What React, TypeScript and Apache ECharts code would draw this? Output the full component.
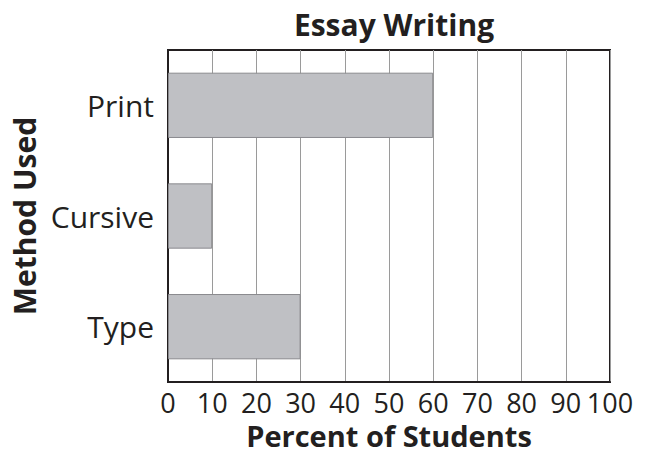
import React, { useEffect, useRef } from "react";
import * as echarts from "echarts";

const categories = ["Print", "Cursive", "Type"];
const values = [60, 10, 30];
const xTicks = [0, 10, 20, 30, 40, 50, 60, 70, 80, 90, 100];

export default function App() {
  const ref = useRef<HTMLDivElement>(null);
  useEffect(() => {
    if (!ref.current) return;
    const chart = echarts.init(ref.current, null, { renderer: "svg" });
    const font = "'Open Sans', 'Noto Sans', sans-serif";
    const txt = "#231f20";
    chart.setOption({
      animation: false,
      backgroundColor: "#ffffff",
      title: {
        text: "Essay Writing",
        left: 389,
        textAlign: "center",
        top: 4,
        textStyle: { fontFamily: font, fontSize: 30, fontWeight: "bold", color: txt },
      },
      grid: {
        left: 168,
        right: 41,
        top: 50,
        bottom: 72,
        containLabel: false,
        outerBoundsMode: "none",
        show: true,
        borderColor: "#231f20",
        borderWidth: 2,
        backgroundColor: "transparent",
      },
      xAxis: {
        type: "value",
        min: xTicks[0],
        max: xTicks[xTicks.length - 1],
        interval: 10,
        name: "Percent of Students",
        nameLocation: "middle",
        nameGap: 29,
        nameTextStyle: { fontFamily: font, fontSize: 29, lineHeight: 29, fontWeight: "bold", color: txt },
        axisLine: { show: true, lineStyle: { color: "#231f20", width: 2 } },
        axisTick: { show: false },
        axisLabel: {
          fontFamily: font,
          fontSize: 27,
          lineHeight: 27,
          color: txt,
          margin: 7,
          showMaxLabel: true,
          showMinLabel: true,
          hideOverlap: false,
        },
        splitLine: { show: true, lineStyle: { color: "#9a9a9a", width: 1 } },
      },
      yAxis: {
        type: "category",
        data: categories,
        inverse: true,
        name: "Method Used",
        nameLocation: "middle",
        nameGap: 126,
        nameRotate: 90,
        nameTextStyle: { fontFamily: font, fontSize: 30, lineHeight: 30, fontWeight: "bold", color: txt },
        axisLine: { show: true, lineStyle: { color: "#231f20", width: 2 } },
        axisTick: { show: false },
        axisLabel: { fontFamily: font, fontSize: 30, lineHeight: 30, color: txt, margin: 14 },
        splitLine: { show: false },
      },
      series: [
        {
          type: "bar",
          data: values,
          barWidth: "59%",
          itemStyle: { color: "#bfc0c4", borderColor: "#8a8a8e", borderWidth: 1 },
          silent: true,
        },
      ],
    });
    return () => chart.dispose();
  }, []);
  return <div ref={ref} style={{ width: 651, height: 454, position: "absolute", left: 0, top: 0 }} />;
}
